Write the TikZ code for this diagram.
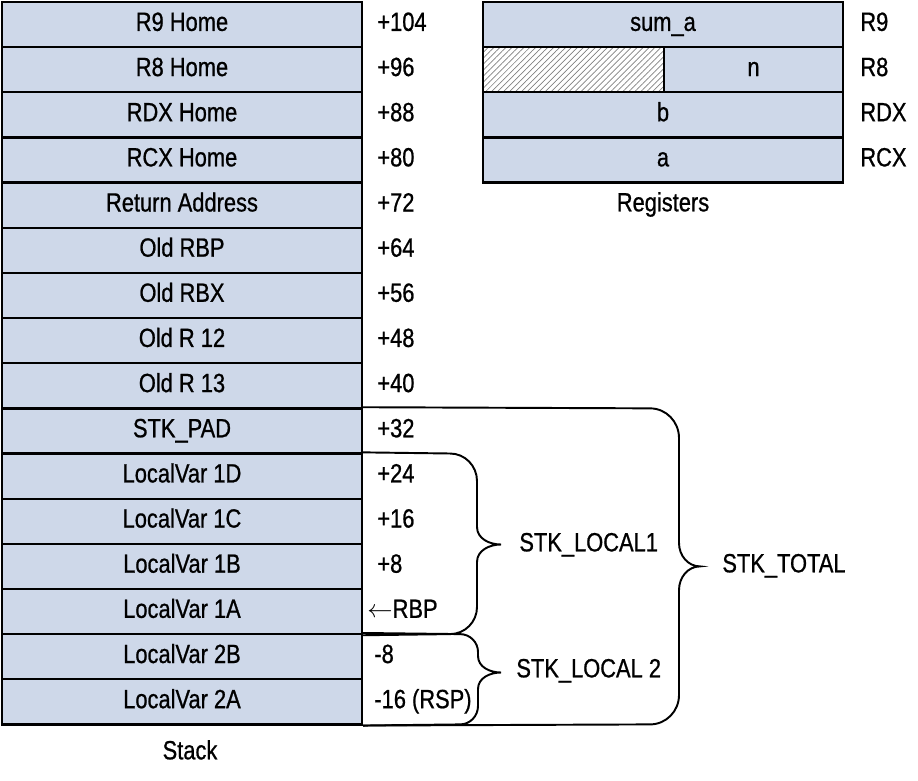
\documentclass[tikz,border=0pt]{standalone}
\usepackage{fontspec}
\setmainfont{Liberation Sans}[FakeStretch=0.83, FakeBold=0.8]
\usepackage{tikz}
\usetikzlibrary{patterns.meta}

\definecolor{cellblue}{RGB}{206,216,233}

\tikzset{
  cell/.style={draw, line width=1.3pt, fill=cellblue, minimum width=7.2cm, minimum height=0.903cm, inner sep=0pt, text height=0.72em, text depth=0em},
  offs/.style={anchor=west, inner sep=0pt, text height=0.72em, text depth=0em},
  brace/.style={line width=1.1pt}
}

\begin{document}
\begin{tikzpicture}[x=0.02cm, y=-0.02cm, font=\fontsize{15}{17}\selectfont]
    \useasboundingbox (0,0) rectangle (918,780);

    % スタック
    \node[cell] (r9h) at (182, 24.58) {R9 Home};
    \node[cell] (r8h) at (182, 69.73) {R8 Home};
    \node[cell] (rdxh) at (182, 114.88) {RDX Home};
    \node[cell] (rcxh) at (182, 160.03) {RCX Home};
    \node[cell] (ret) at (182, 205.18) {Return Address};
    \node[cell] (orbp) at (182, 250.33) {Old RBP};
    \node[cell] (orbx) at (182, 295.48) {Old RBX};
    \node[cell] (or12) at (182, 340.63) {Old R 12};
    \node[cell] (or13) at (182, 385.78) {Old R 13};
    \node[cell] (pad) at (182, 430.93) {STK\_PAD};
    \node[cell] (lv1d) at (182, 476.08) {LocalVar 1D};
    \node[cell] (lv1c) at (182, 521.23) {LocalVar 1C};
    \node[cell] (lv1b) at (182, 566.38) {LocalVar 1B};
    \node[cell] (lv1a) at (182, 611.53) {LocalVar 1A};
    \node[cell] (lv2b) at (182, 656.68) {LocalVar 2B};
    \node[cell] (lv2a) at (182, 701.83) {LocalVar 2A};
    \node[offs, anchor=center] (stack) at (190, 753) {Stack};

    % オフセット
    \node[offs] (o104) at (377, 24.58) {+104};
    \node[offs] (o96) at (377, 69.73) {+96};
    \node[offs] (o88) at (377, 114.88) {+88};
    \node[offs] (o80) at (377, 160.03) {+80};
    \node[offs] (o72) at (377, 205.18) {+72};
    \node[offs] (o64) at (377, 250.33) {+64};
    \node[offs] (o56) at (377, 295.48) {+56};
    \node[offs] (o48) at (377, 340.63) {+48};
    \node[offs] (o40) at (377, 385.78) {+40};
    \node[offs] (o32) at (377, 430.93) {+32};
    \node[offs] (o24) at (377, 476.08) {+24};
    \node[offs] (o16) at (377, 521.23) {+16};
    \node[offs] (o8) at (377, 566.38) {+8};
    \node[offs] (orbpp) at (367, 611.53) {$\leftarrow$RBP};
    \node[offs] (om8) at (374, 656.68) {-8};
    \node[offs] (om16) at (374, 701.83) {-16 (RSP)};

    % レジスタ
    \node[cell] (sum) at (663, 24.58) {sum\_a};
    \node[cell, fill=none, minimum width=3.62cm, pattern={Lines[angle=45, distance=2.4pt, line width=0.4pt]}, pattern color=gray] (hatch) at (573.5, 69.73) {};
    \node[cell, minimum width=3.58cm] (n) at (753.5, 69.73) {n};
    \node[cell] (b) at (663, 114.88) {b};
    \node[cell] (a) at (663, 160.03) {a};
    \node[offs, anchor=center] (regs) at (663, 205) {Registers};

    \node[offs] (lr9) at (860, 24.58) {R9};
    \node[offs] (lr8) at (860, 69.73) {R8};
    \node[offs] (lrdx) at (860, 114.88) {RDX};
    \node[offs] (lrcx) at (860, 160.03) {RCX};

    % 中括弧
    \draw[brace] (pad.north east) -- (650,408.35) to[out=0,in=90] (679,438) -- (679,543)
      to[out=-90,in=180] (700,566.4) to[out=180,in=90] (679,590) -- (679,695)
      to[out=-90,in=0] (650,724.4) -- (lv2a.south east);
    \draw[brace] (lv1d.north east) -- (450,453.5) to[out=0,in=90] (477,481) -- (477,527)
      to[out=-90,in=180] (501,544.5) to[out=180,in=90] (477,562) -- (477,607)
      to[out=-90,in=0] (450,634.1) -- (lv1a.south east);
    \draw[brace] (lv2b.north east) -- (460,634.1) to[out=0,in=90] (478,652) -- (478,656)
      to[out=-90,in=180] (501,672.5) to[out=180,in=90] (478,689) -- (478,706)
      to[out=-90,in=0] (460,724.4) -- (lv2a.south east);

    % ラベル
    \node[offs] (local1) at (519, 545) {STK\_LOCAL1};
    \node[offs] (local2) at (516, 671) {STK\_LOCAL 2};
    \node[offs] (total) at (722, 566) {STK\_TOTAL};
  \end{tikzpicture}
\end{document}
